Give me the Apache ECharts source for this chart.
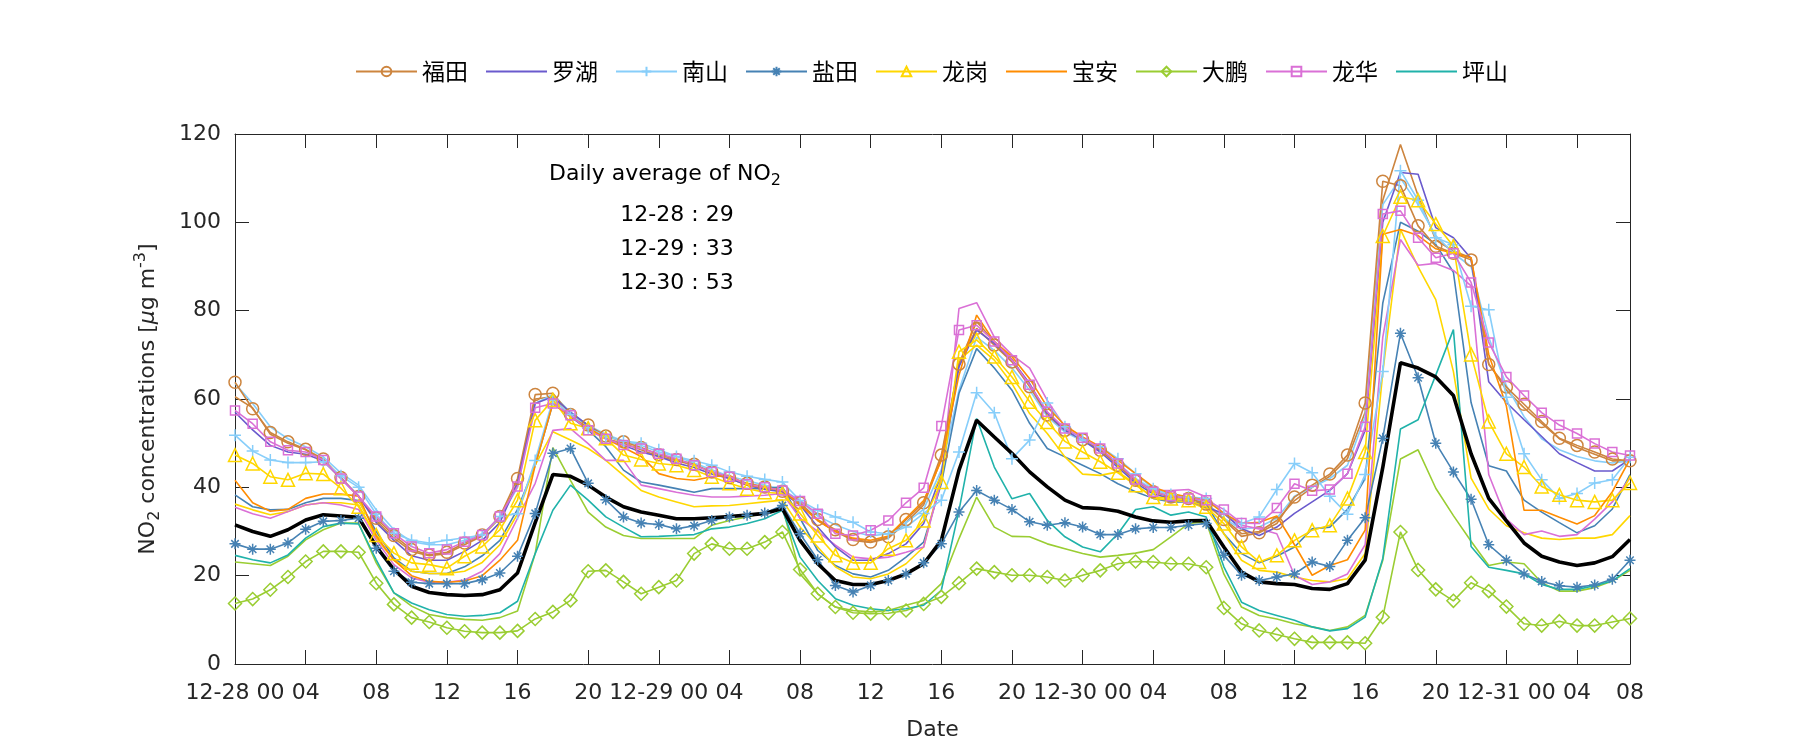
<!DOCTYPE html>
<html><head><meta charset="utf-8">
<script src="https://cdn.jsdelivr.net/npm/echarts@6/dist/echarts.min.js"></script>
<style>html,body{margin:0;padding:0;background:#fff}#c{width:1800px;height:750px}</style>
</head><body><div id="c"></div>
<script>
// hour index since 12-28 00
const hourIndex = Array.from({length: 80}, (_, i) => i);
const tickValues = [0,4,8,12,16,20,24,28,32,36,40,44,48,52,56,60,64,68,72,76,79];
const tickLabels = ['12-28 00','04','08','12','16','20','12-29 00','04','08','12','16','20','12-30 00','04','08','12','16','20','12-31 00','04','08'];
const yTicks = [0,20,40,60,80,100,120];

const dailyDates = ['12-28','12-29','12-30'];
const dailyAvg = [29,33,53];

const futian = [63.8,57.8,52.4,50.3,48.6,46.4,42.2,37.9,33.0,29.1,25.9,24.7,25.3,27.4,29.2,33.4,42.0,
61.0,61.3,56.5,54.1,51.6,50.3,49.0,47.4,46.3,45.2,43.5,42.2,40.9,40.1,39.1,36.5,
32.7,30.4,28.2,27.6,28.8,32.7,36.5,47.3,67.9,76.0,72.2,68.4,62.8,56.4,52.9,50.8,
48.4,45.0,41.6,39.0,37.8,37.5,36.2,32.7,28.9,29.7,31.8,37.8,40.5,43.0,47.3,59.1,
109.3,108.3,99.2,94.6,93.0,91.5,67.8,62.7,58.8,54.9,51.1,49.5,48.0,46.4,46.0];
const luohu = [57,53,49.5,48,47.5,46,42,38,32,28,24.5,23.5,23.5,25.5,28,32,41,
59,60.5,57,54,51,49.5,48,47,45.5,44.5,43,42,40.5,39.5,39,36,
31,26.5,23.5,23.5,25,27.2,31.8,43.1,67.3,75.6,72.6,68.8,63.5,56.7,52.9,50.7,
48,44.5,41,38.5,37.5,37,35.5,34.1,30.6,29.1,31,34.1,36.7,39.3,43.1,52.9,
100,111.3,110.9,98.8,96.5,91.8,63.9,59.2,55.3,51.5,47.6,45.6,43.7,43.7,46.4];
const nanshan = [51.8,48.2,46.2,45.6,45.6,45.8,42.6,40.0,33.9,29.6,28.0,27.4,28.0,28.6,29.2,33.4,34.0,
46.1,59.8,56.5,53.5,51.5,50.5,50.0,48.5,47.0,46.0,45.0,43.5,42.5,41.8,41.2,37.0,
34.8,33.3,32.1,29.9,29.5,31.0,34.1,37.1,48.0,61.4,56.9,46.5,50.7,59.1,53.7,50.7,
49.2,46.5,43.1,39.7,38.4,37.8,37.5,34.1,31.8,33.3,39.5,45.4,43.3,38.0,33.9,42.9,
66.2,111.7,105.0,96.5,94.9,81.0,80.2,60.4,47.6,41.7,37.5,38.6,41.0,41.7,46.8];
const yantian = [27.2,26.0,26.0,27.4,30.5,32.3,32.5,33.0,26.2,21.0,18.5,18.2,18.2,18.2,19.1,20.6,24.4,
34.1,47.7,48.8,40.9,37.2,33.3,31.9,31.6,30.6,31.3,32.5,33.3,33.7,34.2,35.9,29.5,
23.6,17.8,16.3,17.8,18.9,20.4,22.9,27.2,34.4,39.3,37.1,35.0,32.2,31.4,32.0,31.0,
29.3,29.3,30.6,30.9,30.9,31.4,31.8,24.6,20.1,18.9,19.7,20.4,23.1,22.1,28.0,33.1,
51.1,74.9,64.8,50.0,43.5,37.3,27.0,23.5,20.4,18.7,17.7,17.4,17.9,19.2,23.5];
const longgang = [47.3,45.4,42.4,41.7,43.2,43.0,39.8,35.6,29.2,25.1,22.9,22.5,21.7,24.4,26.6,30.4,37.1,
55.2,59.8,54.5,53.4,51.1,47.3,46.3,45.4,45.0,43.9,42.4,40.9,39.7,38.9,38.6,34.1,
29.1,24.6,22.9,22.9,26.1,28.0,32.5,41.2,70.7,73.4,69.6,65.0,59.4,54.8,50.4,48.0,
45.8,43.3,40.5,37.8,37.5,37.1,35.6,31.8,26.5,23.1,24.6,28.0,30.3,31.4,37.5,48.0,
96.9,105.8,105.0,99.6,94.6,70.1,54.9,47.6,44.6,40.2,38.3,37.1,36.7,37.1,41.0];
const baoan = [41.6,36.5,34.6,35.0,37.5,38.5,38.5,38.0,29.0,23.5,20.0,18.7,18.5,18.8,20.0,23.5,28.0,
45.0,59.0,56.0,53.5,51.0,49.0,47.0,43.1,42.0,41.6,42.4,42.7,40.5,40.0,39.3,36.0,
32.5,30.0,28.5,28.0,29.0,33.0,37.0,46.1,65.4,79.0,73.0,69.6,64.6,58.2,54.0,51.4,
49.2,46.1,43.1,40.1,38.6,37.8,37.1,34.1,31.8,32.1,33.5,27.0,20.1,22.3,23.6,30.3,
97.3,98.4,97.0,94.0,93.0,92.0,70.1,58.4,34.8,34.8,33.2,31.7,33.6,39.0,46.4];
const dapeng = [13.7,14.7,16.8,19.7,23.2,25.5,25.5,25.3,18.3,13.5,10.5,9.5,8.2,7.4,7.1,7.1,7.5,
10.2,11.8,14.4,21.0,21.2,18.6,15.9,17.4,18.9,25.0,27.2,26.1,26.1,27.6,29.9,21.4,
15.9,12.9,11.6,11.4,11.5,12.1,13.6,15.2,18.3,21.6,20.8,20.1,20.1,19.7,18.9,20.1,
21.2,22.7,23.2,23.1,22.7,22.7,21.9,12.7,9.1,7.6,6.7,5.7,4.9,4.9,4.9,4.7,
10.6,29.9,21.3,16.9,14.3,18.4,16.5,13.0,9.1,8.7,9.7,8.7,8.7,9.5,10.3];
const longhua = [57.4,54.4,50.3,48.4,48.0,46.2,42.0,37.9,33.4,29.6,26.6,25.1,25.9,27.7,29.2,33.4,40.2,
58.0,59.0,56.3,52.9,51.0,49.6,48.8,47.6,46.5,45.0,43.5,42.4,40.7,40.0,39.3,36.9,
34.0,29.5,29.1,30.3,32.5,36.5,39.9,53.9,75.6,76.7,73.0,68.8,63.2,57.1,53.3,51.2,
48.8,45.4,41.8,39.0,38.0,37.5,37.1,35.0,31.9,31.8,35.3,40.8,39.2,39.5,43.1,53.7,
101.9,102.6,96.5,92.0,93.0,86.4,72.8,65.0,60.8,56.9,54.1,52.2,49.9,48.0,47.2];
const pingshan = [24.6,23.6,22.9,24.7,28.5,31.1,31.9,31.7,23.6,16.1,13.8,12.3,11.2,10.8,11.0,11.6,14.2,
25.0,34.8,40.5,37.1,33.3,31.0,28.8,28.9,29.1,29.3,30.6,31.0,31.8,32.9,34.8,24.2,
18.9,14.8,13.3,12.5,12.1,12.5,13.3,16.7,34.8,55.6,44.6,37.4,38.6,32.5,28.8,26.5,
25.4,29.5,35.0,35.6,33.7,34.4,33.3,22.0,14.0,12.1,11.0,9.9,8.4,7.5,8.0,10.6,
23.9,53.2,55.3,65.4,75.7,26.6,21.9,21.2,20.4,18.0,16.9,16.9,17.7,18.8,21.6];
const cityMean = [31.5,30.0,28.9,30.4,32.6,33.8,33.5,33.2,26.6,21.4,17.6,16.2,15.7,15.5,15.7,16.8,20.6,
32.0,42.9,42.5,40.5,37.8,35.6,34.4,33.7,32.9,32.9,33.1,33.4,33.7,34.1,35.2,28.0,
22.7,18.9,18.0,18.0,18.9,20.4,22.7,28.0,43.9,55.2,51.4,47.7,43.5,40.1,37.1,35.4,
35.2,34.6,33.3,32.4,32.1,32.4,32.5,26.5,20.8,18.6,18.2,18.0,17.1,16.9,18.2,23.5,
44.5,68.2,67.0,65.0,60.8,47.6,37.5,32.4,27.4,24.4,23.1,22.3,22.9,24.3,28.2];
// unmarked companion lines (same colours, no legend entry)
const futianB = [60.5,58.0,52.0,50.0,48.5,46.0,42.0,38.0,32.5,28.5,25.5,24.5,25.0,27.0,29.0,33.0,41.0,
60.0,60.5,56.0,53.5,51.0,50.0,48.5,47.0,46.0,45.0,43.5,42.0,40.5,40.0,39.0,36.0,
32.5,30.0,28.0,27.5,28.5,32.0,36.0,46.5,68.0,77.5,73.0,69.0,63.0,57.0,53.0,51.0,
48.5,45.0,41.5,39.0,38.0,37.5,36.5,33.0,29.5,30.0,32.5,37.0,40.0,42.5,46.5,57.0,
105.0,117.6,106.0,96.0,93.5,92.0,68.0,62.0,58.0,54.5,51.0,49.0,47.5,46.0,46.0];
const nanshanB = [63.5,59.0,53.7,51.0,49.2,46.9,43.2,40.5,34.9,30.4,27.7,27.0,27.0,28.0,29.5,33.0,40.0,
59.0,61.0,57.0,54.0,52.0,50.5,49.5,48.0,47.0,45.5,44.0,42.5,41.5,40.5,39.5,37.0,
33.5,31.5,30.0,29.0,29.5,32.0,35.0,44.0,62.0,74.0,71.0,67.0,62.0,56.0,52.5,50.5,
48.5,45.5,42.0,39.5,38.0,37.5,36.5,33.0,30.5,31.0,33.0,38.0,40.0,42.0,45.0,56.0,
104.0,110.0,104.0,97.0,93.0,90.0,74.0,63.0,56.0,51.0,48.5,47.0,46.0,45.5,46.0];
const yantianB = [38.3,35.6,34.9,35.0,36.5,37.5,37.5,37.0,30.0,24.0,21.0,20.5,20.5,22.0,24.5,28.0,35.0,
45.0,59.0,56.0,53.0,49.2,43.9,41.2,40.5,39.7,38.9,39.7,39.7,39.7,39.7,40.1,33.0,
25.7,22.3,20.4,19.7,21.2,24.2,27.6,40.8,61.3,71.4,67.0,62.0,54.5,48.8,46.9,45.0,
43.1,40.8,39.0,37.5,36.7,36.7,36.3,29.5,25.0,22.9,24.4,26.5,30.6,31.0,35.0,42.0,
81.7,100.0,98.0,95.0,88.7,59.2,44.9,43.7,37.1,34.4,32.0,29.7,31.3,35.1,42.9];
const longgangB = [36.2,34.9,33.8,34.5,36.0,36.5,36.5,36.0,28.5,23.5,21.0,20.5,20.5,21.0,23.0,27.0,34.0,
45.0,52.6,50.7,48.8,46.1,42.7,39.3,37.8,36.7,35.6,35.8,35.9,36.3,36.7,37.1,31.0,
26.5,22.0,19.7,19.3,20.4,22.7,26.5,42.4,68.8,72.2,68.8,63.5,56.7,52.2,46.9,43.0,
42.7,43.5,40.8,37.5,37.1,36.7,35.2,29.5,23.5,21.2,20.8,19.7,18.9,18.6,19.3,25.0,
66.0,98.4,89.9,82.5,66.2,42.1,35.1,31.3,29.7,28.5,28.2,28.5,28.5,29.3,33.6];
const dapengB = [23.1,22.7,22.3,24.4,28.1,30.4,31.9,31.9,22.9,16.1,13.1,11.2,10.5,10.1,9.9,10.5,12.0,
25.0,49.0,41.6,34.4,31.0,29.1,28.4,28.4,28.4,28.4,31.4,32.5,33.3,34.2,35.6,20.4,
15.9,12.9,12.1,11.8,12.1,13.3,14.4,18.2,28.4,37.8,31.0,28.9,28.8,27.2,26.1,25.0,
24.2,24.6,25.1,25.9,28.8,31.8,32.2,20.4,12.9,11.0,10.2,9.1,8.4,7.6,8.4,11.0,
23.5,46.4,48.5,39.8,33.6,27.8,22.3,23.1,22.7,18.4,16.5,16.5,17.3,18.8,21.2];
const longhuaB = [35.5,34.0,33.0,34.5,36.0,36.5,36.0,35.0,28.0,22.5,19.5,18.5,18.5,19.0,21.0,25.0,33.0,
40.9,52.9,53.3,49.9,46.1,46.1,40.5,39.7,38.9,38.2,37.8,37.8,38.0,38.2,38.6,33.0,
30.0,26.9,24.2,23.8,24.2,25.3,26.5,41.6,80.5,81.8,74.0,70.0,67.0,59.7,53.7,50.7,
48.5,45.5,41.5,39.3,39.3,39.5,37.8,34.1,31.4,30.6,29.5,20.1,18.0,18.6,20.4,27.0,
74.0,96.1,90.3,90.7,89.1,85.6,42.9,32.8,29.3,30.1,28.9,29.3,32.8,36.7,42.1];

const SYM = {
  circle: 'path://M10,5A5,5,0,1,1,0,5A5,5,0,1,1,10,5Z',
  plus: 'path://M5,0L5,10M0,5L10,5',
  star: 'path://M5,0L5,10M0,5L10,5M1.6,1.6L8.4,8.4M1.6,8.4L8.4,1.6',
  triangle: 'path://M5,0L10,9L0,9Z',
  diamond: 'path://M5,0L10,5L5,10L0,5Z',
  square: 'path://M0,0L10,0L10,10L0,10Z'
};

const FONT = '"DejaVu Sans", sans-serif';
const TXT = '#262626';

function line(name, vals, color, symbol, size, width) {
  return {
    name: name, type: 'line', xAxisIndex: 0, yAxisIndex: 0,
    data: vals.map((v, i) => [hourIndex[i], v]),
    symbol: symbol ? SYM[symbol] : 'none',
    symbolSize: size || 10,
    showSymbol: !!symbol,
    lineStyle: {color: color, width: width || 1.6},
    itemStyle: {color: 'rgba(0,0,0,0)', borderColor: color, borderWidth: 1.5},
    emphasis: {disabled: true},
    silent: true,
    z: 2
  };
}

const C = {fut:'#CD853F', lh:'#6A5ACD', ns:'#87CEFA', yt:'#4682B4', lg:'#FFD700', ba:'#FF8C00', dp:'#9ACD32', hua:'#DA70D6', ps:'#20B2AA'};

const series = [
  line('福田b', futianB, C.fut),
  line('南山b', nanshanB, C.ns),
  line('盐田b', yantianB, C.yt),
  line('龙岗b', longgangB, C.lg),
  line('大鹏b', dapengB, C.dp),
  line('龙华b', longhuaB, C.hua),
  line('福田', futian, C.fut, 'circle', 12),
  line('罗湖', luohu, C.lh),
  line('南山', nanshan, C.ns, 'plus', 12),
  line('盐田', yantian, C.yt, 'star', 11),
  line('龙岗', longgang, C.lg, 'triangle', 13),
  line('宝安', baoan, C.ba),
  line('大鹏', dapeng, C.dp, 'diamond', 13),
  line('龙华', longhua, C.hua, 'square', 9),
  line('坪山', pingshan, C.ps),
  line('平均', cityMean, '#000000', null, 0, 3.6)
];

function axisCommon() {
  return {
    axisLine: {show: true, onZero: false, lineStyle: {color: TXT, width: 1}},
    axisTick: {show: true, inside: true, length: 14, lineStyle: {color: TXT, width: 1}},
    splitLine: {show: false}
  };
}

const nameRich = {
  a: {fontSize: 22, fontFamily: FONT, color: TXT, lineHeight: 30, verticalAlign: 'middle'},
  i: {fontSize: 22, fontFamily: FONT, color: TXT, lineHeight: 30, verticalAlign: 'middle', fontStyle: 'italic'},
  sub: {fontSize: 16, fontFamily: FONT, color: TXT, lineHeight: 14, verticalAlign: 'bottom'},
  sup: {fontSize: 16, fontFamily: FONT, color: TXT, lineHeight: 14, verticalAlign: 'top'}
};

const noMarker = {color: 'rgba(0,0,0,0)', borderColor: 'rgba(0,0,0,0)', borderWidth: 0};
const legendNames = ['福田','罗湖','南山','盐田','龙岗','宝安','大鹏','龙华','坪山'];
const unmarked = ['罗湖','宝安','坪山'];

const option = {
  animation: false,
  backgroundColor: '#ffffff',
  grid: {left: 235, right: 170, top: 134, bottom: 86},
  legend: {
    data: legendNames.map(n => unmarked.indexOf(n) >= 0 ? {name: n, itemStyle: noMarker} : {name: n}),
    left: 350, top: 55, itemWidth: 61, itemHeight: 12, itemGap: 17,
    textStyle: {fontSize: 23, color: '#000', fontFamily: '"Noto Sans CJK SC", sans-serif'},
    selectedMode: false
  },
  xAxis: [
    Object.assign({
      type: 'value', position: 'bottom', min: 0, max: 79, interval: 4,
      axisLabel: {fontSize: 22, fontFamily: FONT, color: TXT, margin: 18,
        formatter: v => { const k = tickValues.indexOf(Math.round(v)); return k >= 0 ? tickLabels[k] : ''; }},
      name: 'Date', nameLocation: 'middle', nameGap: 55,
      nameTextStyle: {fontSize: 22, fontFamily: FONT, color: TXT}
    }, axisCommon()),
    Object.assign({
      type: 'value', position: 'top', min: 0, max: 79, interval: 4,
      axisLabel: {show: false}
    }, axisCommon())
  ],
  yAxis: [
    Object.assign({
      type: 'value', position: 'left', min: 0, max: 120, interval: 20,
      axisLabel: {fontSize: 22, fontFamily: FONT, color: TXT, margin: 14,
        formatter: v => yTicks.indexOf(v) >= 0 ? String(v) : ''},
      name: '{a|NO}{sub|2}{a| concentrations [}{i|μ}{a|g m}{sup|-3}{a|]}',
      nameLocation: 'middle', nameGap: 72, nameRotate: 90,
      nameTextStyle: {rich: nameRich}
    }, axisCommon()),
    Object.assign({
      type: 'value', position: 'right', min: 0, max: 120, interval: 20,
      axisLabel: {show: false}
    }, axisCommon())
  ],
  graphic: [
    {type: 'text', x: 665, y: 174, silent: true,
     style: {text: '{a|Daily average of NO}{sub|2}', align: 'center', verticalAlign: 'middle',
       rich: {
         a: {fontSize: 22, fontFamily: FONT, fill: '#000', lineHeight: 30, verticalAlign: 'middle'},
         sub: {fontSize: 16, fontFamily: FONT, fill: '#000', lineHeight: 14, verticalAlign: 'bottom'}
       }}},
    ...dailyDates.map((d, k) => ({
      type: 'text', x: 677, y: 215 + k * 34, silent: true,
      style: {text: d + ' : ' + dailyAvg[k], align: 'center', verticalAlign: 'middle',
        fontSize: 22, fontFamily: FONT, fill: '#000'}
    }))
  ],
  series: series
};

const chart = echarts.init(document.getElementById('c'), null, {renderer: 'canvas'});
chart.setOption(option);
</script>
</body></html>
